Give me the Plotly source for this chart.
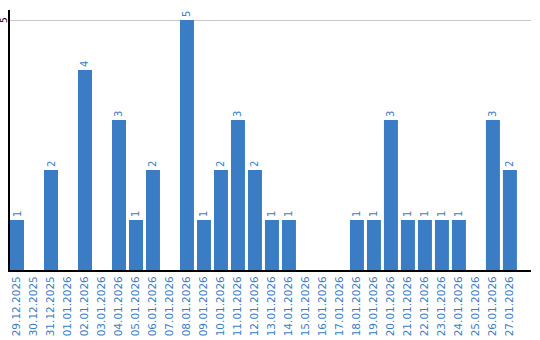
import plotly.graph_objects as go

dates = ["29.12.2025", "30.12.2025", "31.12.2025", "01.01.2026", "02.01.2026", "03.01.2026",
         "04.01.2026", "05.01.2026", "06.01.2026", "07.01.2026", "08.01.2026", "09.01.2026",
         "10.01.2026", "11.01.2026", "12.01.2026", "13.01.2026", "14.01.2026", "15.01.2026",
         "16.01.2026", "17.01.2026", "18.01.2026", "19.01.2026", "20.01.2026", "21.01.2026",
         "22.01.2026", "23.01.2026", "24.01.2026", "25.01.2026", "26.01.2026", "27.01.2026"]
counts = [1, 0, 2, 0, 4, 0, 3, 1, 2, 0, 5, 1, 2, 3, 2, 1, 1, 0, 0, 0, 1, 1, 3, 1, 1, 1, 1, 0, 3, 2]
y_ticks = [5]

blue = "#3b7dc4"
labels = [str(v) if v else "" for v in counts]

fig = go.Figure(go.Bar(
    x=dates, y=counts, text=labels, textposition="outside", textangle=-90,
    textfont=dict(family="DejaVu Sans", size=10, color=blue),
    marker=dict(color=blue, line=dict(width=0)), width=14 / 17, cliponaxis=False,
))
fig.update_layout(
    width=540, height=340, margin=dict(l=10, r=9, t=10, b=70),
    paper_bgcolor="white", plot_bgcolor="white", showlegend=False,
    font=dict(family="DejaVu Sans", size=10),
)
fig.update_xaxes(type="category", range=[-0.412, 30.24], showline=True, linecolor="black",
                 linewidth=2, tickangle=-90, ticks="", showgrid=False, automargin=False,
                 tickfont=dict(family="DejaVu Sans", size=10.5, color=blue))
fig.update_yaxes(range=[0, 5.2], tickvals=y_ticks, showticklabels=False, showline=True,
                 linecolor="black", linewidth=2, showgrid=True, gridcolor="#c8c8c8",
                 gridwidth=1, zeroline=False, ticks="", automargin=False)
for t in y_ticks:
    fig.add_annotation(x=0, xref="paper", y=t, yref="y", text=str(t), textangle=-90,
                       showarrow=False, xanchor="center", yanchor="middle", xshift=-6,
                       font=dict(family="DejaVu Sans", size=9, color="black"))
fig.write_html("out.html")
